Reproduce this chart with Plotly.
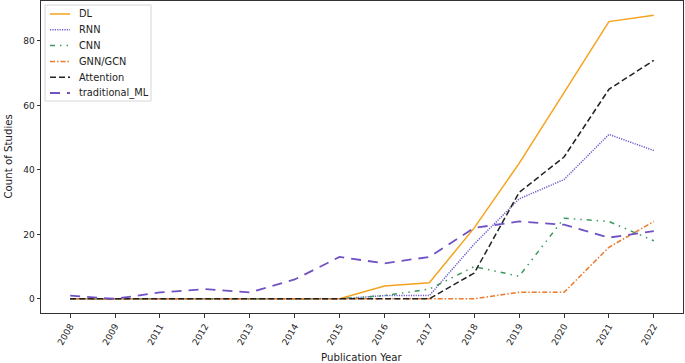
import plotly.graph_objects as go

years = ["2008", "2009", "2011", "2012", "2013", "2014", "2015",
         "2016", "2017", "2018", "2019", "2020", "2021", "2022"]
dl = [0, 0, 0, 0, 0, 0, 0, 4, 5, 22, 42, 64, 86, 88]
rnn = [0, 0, 0, 0, 0, 0, 0, 1, 1, 17, 31, 37, 51, 46]
cnn = [0, 0, 0, 0, 0, 0, 0, 1, 3, 10, 7, 25, 24, 18]
gnn = [0, 0, 0, 0, 0, 0, 0, 0, 0, 0, 2, 2, 16, 24]
attention = [0, 0, 0, 0, 0, 0, 0, 0, 0, 8, 33, 44, 65, 74]
trad_ml = [1, 0, 2, 3, 2, 6, 13, 11, 13, 22, 24, 23, 19, 21]

series = [
    ("DL", dl, "#f5a31f", "solid", 1.5),
    ("RNN", rnn, "#6a5acd", "1.2px,1.2px", 1.5),
    ("CNN", cnn, "#3a9a5b", "5px,5px,1.5px,5px,1.5px,5px", 1.5),
    ("GNN/GCN", gnn, "#ea7a2c", "5px,2px,1.5px,2px", 1.5),
    ("Attention", attention, "#222222", "6px,3px", 1.5),
    ("traditional_ML", trad_ml, "#7152c4", "10px,7px", 1.8),
]

W, H = 685, 363
ML, MR, MT, MB = 41, 2, 1, 50
PW, PH = W - ML - MR, H - MT - MB


def px2x(px):
    return (px - ML) / PW


def px2y(py):
    return (H - MB - py) / PH


fig = go.Figure()
for name, vals, color, dash, w in series:
    fig.add_trace(go.Scatter(x=years, y=vals, name=name, mode="lines",
                             line=dict(color=color, dash=dash, width=w)))

# manual legend (matplotlib-like compact spacing)
shapes = [dict(type="rect", xref="paper", yref="paper",
               x0=px2x(45), x1=px2x(151), y0=px2y(101), y1=px2y(5),
               line=dict(color="#d6d6d6", width=1),
               fillcolor="rgba(255,255,255,0.85)", layer="above")]
annotations = []
for i, (name, vals, color, dash, w) in enumerate(series):
    yc = 14 + i * 15.8
    shapes.append(dict(type="line", xref="paper", yref="paper",
                       x0=px2x(50), x1=px2x(70), y0=px2y(yc), y1=px2y(yc),
                       line=dict(color=color, dash=dash, width=w),
                       layer="above"))
    annotations.append(dict(text=name, x=px2x(77), y=px2y(yc),
                            xref="paper", yref="paper", xanchor="left",
                            yanchor="middle", showarrow=False,
                            font=dict(size=9.8)))

annotations += [
    dict(text="Publication Year", x=0.5, y=0, xref="paper", yref="paper",
         yshift=-37, xanchor="center", yanchor="top", showarrow=False,
         font=dict(size=10.2)),
    dict(text="Count of Studies", x=0, y=0.5, xref="paper", yref="paper",
         xshift=-41, xanchor="left", yanchor="middle", showarrow=False,
         textangle=-90, font=dict(size=10.2)),
]

fig.update_layout(
    width=W, height=H,
    margin=dict(l=ML, r=MR, t=MT, b=MB),
    plot_bgcolor="white", paper_bgcolor="white",
    font=dict(family="DejaVu Sans", size=9, color="#222"),
    showlegend=False,
    shapes=shapes,
    annotations=annotations,
)
fig.update_xaxes(
    type="category", range=[-0.65, 13.65], tickangle=-60, automargin=False,
    showline=True, linecolor="#333", linewidth=1, mirror=True,
    ticks="outside", ticklen=3.5, tickcolor="#333", showgrid=False,
)
fig.update_yaxes(
    range=[-4.4, 92.4], tickvals=[0, 20, 40, 60, 80], automargin=False,
    showline=True, linecolor="#333", linewidth=1, mirror=True,
    ticks="outside", ticklen=3.5, tickcolor="#333", showgrid=False,
    zeroline=False,
)
fig.write_html(
    "out.html",
    config={"displayModeBar": False},
    post_script="document.body.style.margin='0';document.body.style.overflow='hidden';",
)
